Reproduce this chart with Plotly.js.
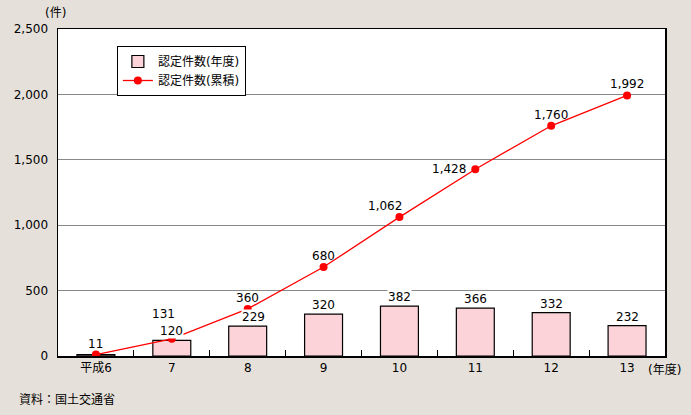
<!DOCTYPE html>
<html>
<head>
<meta charset="utf-8">
<script src="https://cdn.plot.ly/plotly-3.0.1.min.js"></script>
<style>
html,body{margin:0;padding:0;background:#e6e0da;}
#chart{width:691px;height:415px;}
</style>
</head>
<body>
<div id="chart"></div>
<script>
// ---- data ----
const categories = ["平成6", "7", "8", "9", "10", "11", "12", "13"];
const yearlyCounts = [11, 120, 229, 320, 382, 366, 332, 232];
const cumulativeCounts = [11, 131, 360, 680, 1062, 1428, 1760, 1992];
const yTickValues = [0, 500, 1000, 1500, 2000, 2500];
const yTickLabels = ["0", "500", "1,000", "1,500", "2,000", "2,500"];
const seriesNames = ["認定件数(年度)", "認定件数(累積)"];

// ---- label placement (styling only) ----
const barLabelShiftX = [0, 0, 6, 0, 0, 0, 0, 0];
const lineLabelShiftX = [0, -8, 0, 0, -14, 0, 0, 0];
const lineLabelShiftY = [3, 17, 3, 3, 3, 0, 3, 3];
const lineLabelSide = ["top", "top", "top", "top", "top", "left", "top", "top"];

const FONT = '"DejaVu Sans", "Noto Sans CJK JP", sans-serif';

const traces = [
  {
    type: "bar",
    x: categories,
    y: yearlyCounts,
    name: seriesNames[0],
    width: 0.5,
    marker: { color: "#fbd3d9", line: { color: "#000", width: 1.2 } },
    hoverinfo: "skip"
  },
  {
    type: "scatter",
    mode: "lines+markers",
    x: categories,
    y: cumulativeCounts,
    name: seriesNames[1],
    line: { color: "#ff0000", width: 1.3 },
    marker: { color: "#ff0000", size: 8 },
    hoverinfo: "skip"
  }
];

const annotations = [];
categories.forEach((c, i) => {
  // on a category axis, annotations are placed by category index
  if (i > 0) {
    annotations.push({
      x: i, y: yearlyCounts[i], xref: "x", yref: "y",
      text: yearlyCounts[i].toLocaleString("en-US"),
      showarrow: false, yanchor: "bottom", xanchor: "center",
      xshift: barLabelShiftX[i], yshift: 1,
      bgcolor: "#ffffff", borderpad: 0,
      font: { family: FONT, size: 12, color: "#000" }
    });
  }
  const side = lineLabelSide[i];
  annotations.push({
    x: i, y: cumulativeCounts[i], xref: "x", yref: "y",
    text: cumulativeCounts[i].toLocaleString("en-US"),
    showarrow: false,
    yanchor: side === "top" ? "bottom" : "middle",
    xanchor: side === "top" ? "center" : "right",
    xshift: side === "top" ? lineLabelShiftX[i] : -8,
    yshift: lineLabelShiftY[i],
    borderpad: 0,
    font: { family: FONT, size: 12, color: "#000" }
  });
});

annotations.push({
  text: "(件)", xref: "paper", yref: "paper", x: -0.025, y: 1.05,
  xanchor: "left", yanchor: "middle", showarrow: false,
  font: { family: FONT, size: 12, color: "#000" }
});
annotations.push({
  text: "(年度)", xref: "paper", yref: "paper", x: 1.03, y: -0.043,
  xanchor: "right", yanchor: "middle", showarrow: false,
  font: { family: FONT, size: 12, color: "#000" }
});
annotations.push({
  text: "資料：国土交通省", xref: "paper", yref: "paper", x: -0.068, y: -0.135,
  xanchor: "left", yanchor: "middle", showarrow: false,
  font: { family: FONT, size: 12, color: "#000" }
});

const layout = {
  width: 691, height: 415,
  margin: { l: 58, r: 26, t: 29, b: 59 },
  paper_bgcolor: "#e6e0da",
  plot_bgcolor: "#ffffff",
  font: { family: FONT, size: 12, color: "#000" },
  showlegend: true,
  legend: {
    x: 0.097, y: 0.948, xanchor: "left", yanchor: "top",
    bgcolor: "#ffffff", bordercolor: "#000", borderwidth: 1,
    font: { family: FONT, size: 12, color: "#000" },
    tracegroupgap: 0, itemwidth: 30
  },
  xaxis: {
    type: "category",
    range: [-0.5, categories.length - 0.5],
    showline: true, linecolor: "#000", linewidth: 1.5, mirror: true,
    ticks: "inside", tickson: "boundaries", ticklen: 6, tickcolor: "#000",
    showgrid: false, zeroline: false,
    tickfont: { family: FONT, size: 12, color: "#000" },
    fixedrange: true
  },
  yaxis: {
    range: [0, 2500],
    tickvals: yTickValues, ticktext: yTickLabels,
    showline: true, linecolor: "#000", linewidth: 1.5, mirror: true,
    ticks: "", showgrid: true, gridcolor: "#888888", gridwidth: 1,
    zeroline: false, ticklabelstandoff: 6,
    tickfont: { family: FONT, size: 12, color: "#000" },
    fixedrange: true
  },
  bargap: 0.5,
  annotations: annotations
};

Plotly.newPlot("chart", traces, layout, { displayModeBar: false, staticPlot: true });
</script>
</body>
</html>
